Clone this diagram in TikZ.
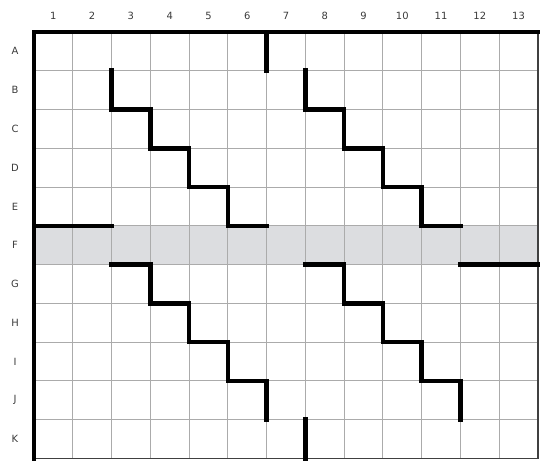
\documentclass[tikz,border=0pt]{standalone}
\usepackage{fontspec}
\setsansfont{DejaVu Sans}
\definecolor{bandgray}{HTML}{DCDDE0}
\definecolor{gridgray}{HTML}{ABABAB}
\definecolor{labelgray}{HTML}{3A3A3A}
\begin{document}
\begin{tikzpicture}[
    lbl/.style={font=\sffamily\fontsize{7.3}{9}\selectfont, text=labelgray, inner sep=0pt},
    wall/.style={line width=3.3pt, line join=miter, line cap=rect, black}]
    \useasboundingbox (-0.877,-0.065) rectangle (13.053,11.825);

    % shaded row F
    \fill[bandgray] (0,5) rectangle (13,6);
    \draw[gridgray, line width=0.75pt] (0,0) grid (13,11);
    \draw[black!75, line width=0.9pt] (13,11) -- (13,0) -- (0,0);

    % column and row labels
    \foreach \i in {1,...,13}
        \node[lbl] (c\i) at (\i-0.5,11.42) {\i};
    \foreach \l [count=\r] in {A,B,C,D,E,F,G,H,I,J,K}
        \node[lbl] (r\l) at (-0.49,11.5-\r) {\l};

    % outer walls
    \draw[wall] (0,0) -- (0,11) -- (13,11);
    \draw[wall] (6,11) -- (6,10);
    \draw[wall] (7,1) -- (7,0);
    \draw[wall] (0,6) -- (2,6);
    \draw[wall] (11,5) -- (13,5);

    % staircases above row F
    \draw[wall] (2,10) -- (2,9) -- (3,9) -- (3,8) -- (4,8) -- (4,7) -- (5,7) -- (5,6) -- (6,6);
    \draw[wall] (7,10) -- (7,9) -- (8,9) -- (8,8) -- (9,8) -- (9,7) -- (10,7) -- (10,6) -- (11,6);

    % staircases below row F
    \draw[wall] (2,5) -- (3,5) -- (3,4) -- (4,4) -- (4,3) -- (5,3) -- (5,2) -- (6,2) -- (6,1);
    \draw[wall] (7,5) -- (8,5) -- (8,4) -- (9,4) -- (9,3) -- (10,3) -- (10,2) -- (11,2) -- (11,1);
\end{tikzpicture}
\end{document}
